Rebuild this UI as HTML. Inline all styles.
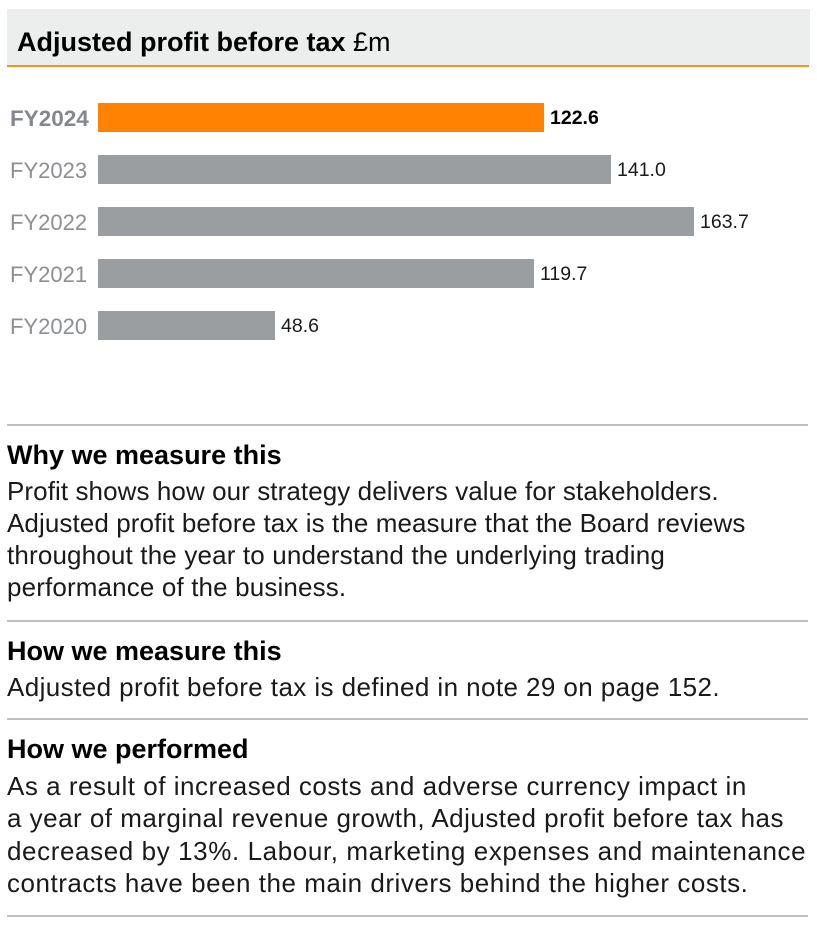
<!DOCTYPE html>
<html>
<head>
<meta charset="utf-8">
<style>
  html, body { margin:0; padding:0; background:#ffffff; }
  body { width:817px; height:931px; position:relative; overflow:hidden; font-family:"Liberation Sans", Arial, sans-serif; }
  .abs { position:absolute; white-space:nowrap; }
  .hdr { position:absolute; left:7px; top:9px; width:803px; height:56px; background:#eceeed; }
  .hdrline { position:absolute; left:7px; top:65px; width:802px; height:2px; background:#f7931e; }
  .title { left:17px; top:26px; font-size:27px; line-height:32px; font-weight:bold; color:#000; }
  .title span { font-weight:normal; }
  .bar { position:absolute; height:29px; background:#9b9ea0; left:98px; }
  .bar.o { background:#ff8300; }
  .yr { position:absolute; left:10px; font-size:22px; line-height:22px; color:#8c8f93; }
  .yr.b { font-weight:bold; color:#84878b; font-size:22.5px; }
  .val { position:absolute; font-size:19.5px; line-height:19px; color:#1a1a1a; }
  .val.b { font-weight:bold; color:#000; }
  .sep { position:absolute; left:7px; width:801px; height:1.5px; background:#bfbfbf; }
  .h { left:7px; font-size:27px; line-height:32px; font-weight:bold; color:#000; }
  .p { left:7px; font-size:26px; line-height:32px; color:#1a1a1a; }
</style>
</head>
<body>
  <div class="hdr"></div>
  <div class="hdrline"></div>
  <div class="abs title">Adjusted profit before tax <span>£m</span></div>

  <div class="bar o" style="top:103px; width:446px;"></div>
  <div class="bar" style="top:155px; width:513px;"></div>
  <div class="bar" style="top:207px; width:596px;"></div>
  <div class="bar" style="top:259px; width:436px;"></div>
  <div class="bar" style="top:311px; width:177px;"></div>

  <div class="yr b" style="top:108px;">FY2024</div>
  <div class="yr" style="top:160px;">FY2023</div>
  <div class="yr" style="top:212px;">FY2022</div>
  <div class="yr" style="top:264px;">FY2021</div>
  <div class="yr" style="top:316px;">FY2020</div>

  <div class="val b" style="left:550px; top:109px;">122.6</div>
  <div class="val" style="left:617px; top:161px;">141.0</div>
  <div class="val" style="left:700px; top:213px;">163.7</div>
  <div class="val" style="left:540px; top:265px;">119.7</div>
  <div class="val" style="left:281px; top:317px;">48.6</div>

  <div class="sep" style="top:424px;"></div>
  <div class="abs h" style="top:439px;">Why we measure this</div>
  <div class="abs p" style="top:475px; letter-spacing:0.08px;">Profit shows how our strategy delivers value for stakeholders.</div>
  <div class="abs p" style="top:507px; letter-spacing:0.09px;">Adjusted profit before tax is the measure that the Board reviews</div>
  <div class="abs p" style="top:539px; letter-spacing:0.16px;">throughout the year to understand the underlying trading</div>
  <div class="abs p" style="top:571px; letter-spacing:0.14px;">performance of the business.</div>

  <div class="sep" style="top:620px;"></div>
  <div class="abs h" style="top:635px;">How we measure this</div>
  <div class="abs p" style="top:671px; letter-spacing:0.41px;">Adjusted profit before tax is defined in note 29 on page 152.</div>

  <div class="sep" style="top:718px;"></div>
  <div class="abs h" style="top:733px;">How we performed</div>
  <div class="abs p" style="top:770px; letter-spacing:0.52px;">As a result of increased costs and adverse currency impact in</div>
  <div class="abs p" style="top:802px; letter-spacing:0.48px;">a year of marginal revenue growth, Adjusted profit before tax has</div>
  <div class="abs p" style="top:835px; letter-spacing:0.6px;">decreased by 13%. Labour, marketing expenses and maintenance</div>
  <div class="abs p" style="top:867px; letter-spacing:0.52px;">contracts have been the main drivers behind the higher costs.</div>

  <div class="sep" style="top:915px;"></div>
</body>
</html>
